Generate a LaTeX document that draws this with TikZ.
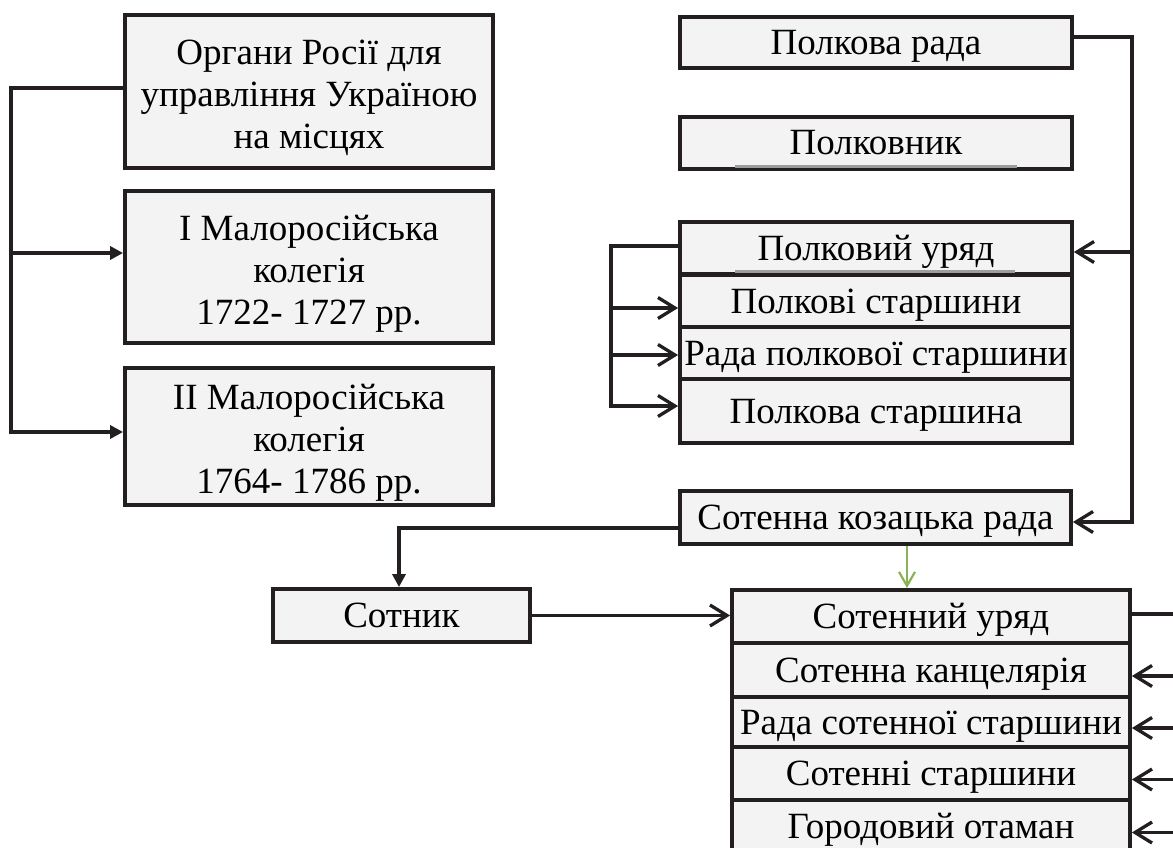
\documentclass[tikz,border=0pt]{standalone}
\usepackage{fontspec}
\setmainfont{Liberation Serif}
\usetikzlibrary{arrows.meta, positioning}
\definecolor{boxfill}{HTML}{F2F3F2}
\definecolor{ink}{HTML}{231F20}
\definecolor{leaf}{HTML}{8DB255}
\definecolor{rule}{HTML}{9C9D9C}
\newcommand{\toppad}{\rule{0pt}{38pt}}

\begin{document}
\begin{tikzpicture}[x=1pt, y=1pt, line width=3.3pt, color=ink,
    box/.style={draw=ink, fill=boxfill, line width=3.8pt, inner sep=0pt, align=center,
      text=black, font=\fontsize{37}{42}\selectfont},
    one/.style={box, text height=31pt, text depth=7pt},
    solid tip/.style={-{Triangle[length=13pt,width=13pt]}},
    open tip/.style={-{Straight Barb[length=17pt,width=21pt]}},
    green tip/.style={leaf, line width=2.2pt, -{Straight Barb[length=14pt,width=16pt]}},
    underline/.style={rule, line width=3pt}]
    \useasboundingbox (0,0) rectangle (1173,-848);

    % left column
    \node[box, minimum width=368, minimum height=153] (organy) at (309,-91.5)
      {\toppad Органи Росії для\\управління Україною\\на місцях};
    \node[box, minimum width=368, minimum height=152] (kol1) at (309,-267)
      {\toppad І Малоросійська\\колегія\\1722- 1727 рр.};
    \node[box, minimum width=368, minimum height=137] (kol2) at (309,-436.5)
      {\toppad ІІ Малоросійська\\колегія\\1764- 1786 рр.};

    % regiment
    \node[one, minimum width=392, minimum height=51] (rada) at (876,-42.5) {Полкова рада};
    \node[one, minimum width=392, minimum height=52] (polkovnyk) at (876,-143) {Полковник};
    \node[one, minimum width=392, minimum height=52] (uriad) at (876,-248) {Полковий уряд};
    \node[one, minimum width=392, minimum height=52] (starshyny) at (876,-301) {Полкові старшини};
    \node[one, minimum width=392, minimum height=52] (radaSt) at (876,-353) {Рада полкової старшини};
    \node[one, minimum width=392, minimum height=64] (starshyna) at (876,-411) {Полкова старшина};
    \draw[underline] ([xshift=-141pt,yshift=4pt]polkovnyk.south) -- ++(282,0);
    \draw[underline] ([xshift=-141pt,yshift=4pt]uriad.south) -- ++(280,0);

    % company
    \node[one, minimum width=391, minimum height=53] (sotRada) at (875.5,-517.5) {Сотенна козацька рада};
    \node[one, minimum width=257, minimum height=53] (sotnyk) at (401.5,-615.5) {Сотник};
    \node[one, minimum width=398, minimum height=53] (sotUriad) at (931,-616.5) {Сотенний уряд};
    \node[one, minimum width=398, minimum height=54] (kantseliaria) at (931,-670) {Сотенна канцелярія};
    \node[one, minimum width=398, minimum height=50] (radaSotSt) at (931,-722) {Рада сотенної старшини};
    \node[one, minimum width=398, minimum height=53] (sotSt) at (931,-773.5) {Сотенні старшини};
    \node[one, minimum width=398, minimum height=53] (otaman) at (931,-826.5) {Городовий отаман};

    % connectors
    \draw[solid tip] ([yshift=3.5]organy.west) -- ++(-112,0) |- ([yshift=14]kol1.west);
    \draw[solid tip] ([yshift=3.5]organy.west) -- ++(-112,0) |- ([yshift=4.5]kol2.west);

    \draw[open tip] ([yshift=2]uriad.west) -- ++(-67,0) |- ([yshift=-7]starshyny.west);
    \draw[open tip] ([yshift=2]uriad.west) -- ++(-67,0) |- ([yshift=-2]radaSt.west);
    \draw[open tip] ([yshift=2]uriad.west) -- ++(-67,0) |- ([yshift=5]starshyna.west);

    \draw[open tip] ([yshift=5.5]rada.east) -- ++(58,0) |- ([yshift=-4]uriad.east);
    \draw[open tip] ([yshift=5.5]rada.east) -- ++(58,0) |- ([yshift=-4.5]sotRada.east);

    \draw[solid tip] ([yshift=-10.5]sotRada.west) -| ([xshift=-2.5pt]sotnyk.north);
    \draw[open tip] (sotnyk.east) -- (sotUriad.west |- sotnyk.east);
    \draw[green tip] ([xshift=31.5pt]sotRada.south) -- ([xshift=31.5pt]sotRada.south |- sotUriad.north);

    \coordinate (sbus) at (1195,-614);
    \draw ([yshift=2.5]sotUriad.east) -- (sbus) -- ++(0,-240);
    \foreach \n in {kantseliaria, radaSotSt, sotSt, otaman}
      \draw[open tip] ([yshift=-6]sbus |- \n.east) -- ([yshift=-6]\n.east);
\end{tikzpicture}
\end{document}
